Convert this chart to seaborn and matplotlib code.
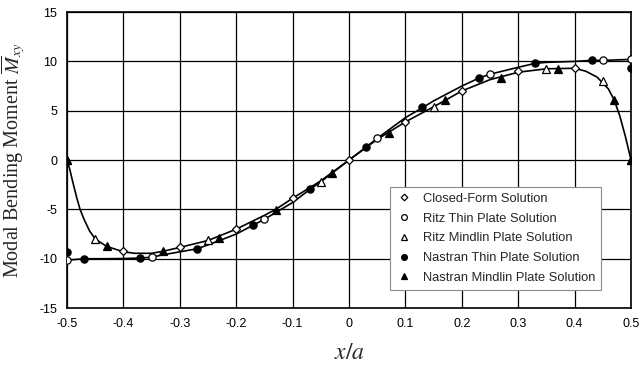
import matplotlib
matplotlib.use("Agg")
import matplotlib.pyplot as plt
import seaborn as sns
import pandas as pd

# ---- data ----
thin_curve_x = [-0.5, -0.47, -0.43, -0.4, -0.37, -0.35, -0.33, -0.3, -0.27, -0.25, -0.2, -0.17, -0.15,
                -0.1, -0.07, -0.05, 0.0, 0.03, 0.05, 0.1, 0.13, 0.15, 0.2, 0.23, 0.25, 0.3, 0.33, 0.35,
                0.4, 0.43, 0.45, 0.5]
thin_curve_y = [-10.15, -10.0, -10.0, -9.98, -9.93, -9.85, -9.6, -9.3, -9.0, -8.6, -7.5, -6.6, -6.0,
                -4.3, -3.0, -2.2, 0.0, 1.3, 2.2, 4.3, 5.3, 6.0, 7.5, 8.3, 8.7, 9.4, 9.8, 9.9,
                10.0, 10.1, 10.1, 10.2]

mindlin_curve_x = [-0.5, -0.495, -0.49, -0.483, -0.477, -0.47, -0.46, -0.45, -0.43, -0.4, -0.38, -0.35,
                   -0.33, -0.3, -0.25, -0.2, -0.15, -0.13, -0.1, -0.05, 0.0, 0.05, 0.1, 0.15, 0.2,
                   0.25, 0.3, 0.35, 0.4, 0.42, 0.44, 0.46, 0.47, 0.48, 0.49, 0.5]
mindlin_curve_y = [0.0, -1.0, -2.2, -3.8, -5.0, -6.0, -7.2, -8.0, -8.75, -9.3, -9.45, -9.45,
                   -9.25, -8.85, -8.15, -7.0, -5.6, -5.0, -3.87, -2.1, 0.0, 2.1, 3.87, 5.4, 7.0,
                   8.15, 8.9, 9.25, 9.3, 9.0, 8.4, 7.2, 6.1, 4.5, 2.4, 0.0]

closed_x = [-0.4, -0.3, -0.2, -0.1, 0.0, 0.1, 0.2, 0.3, 0.4]
closed_y = [-9.2, -8.86, -7.0, -3.87, 0.0, 3.87, 7.0, 9.0, 9.3]

ritz_thin_x = [-0.5, -0.35, -0.15, 0.05, 0.25, 0.45, 0.5]
ritz_thin_y = [-10.17, -9.87, -6.0, 2.2, 8.7, 10.1, 10.27]

ritz_mindlin_x = [-0.5, -0.45, -0.25, -0.05, 0.15, 0.35, 0.45, 0.5]
ritz_mindlin_y = [0.0, -8.0, -8.15, -2.2, 5.4, 9.26, 8.0, 0.0]

nastran_thin_x = [-0.5, -0.47, -0.37, -0.27, -0.17, -0.07, 0.03, 0.13, 0.23, 0.33, 0.43, 0.5]
nastran_thin_y = [-9.36, -10.0, -9.93, -9.0, -6.6, -2.96, 1.3, 5.35, 8.3, 9.8, 10.1, 9.3]

nastran_mindlin_x = [-0.5, -0.43, -0.33, -0.23, -0.13, -0.03, 0.07, 0.17, 0.27, 0.37, 0.47, 0.5]
nastran_mindlin_y = [0.0, -8.75, -9.2, -7.85, -5.05, -1.28, 2.7, 6.1, 8.3, 9.26, 6.1, 0.0]

x_ticks = [-0.5, -0.4, -0.3, -0.2, -0.1, 0, 0.1, 0.2, 0.3, 0.4, 0.5]
x_tick_labels = ["-0.5", "-0.4", "-0.3", "-0.2", "-0.1", "0", "0.1", "0.2", "0.3", "0.4", "0.5"]
y_ticks = [-15, -10, -5, 0, 5, 10, 15]
y_tick_labels = ["-15", "-10", "-5", "0", "5", "10", "15"]

# ---- styling ----
sns.set_theme(style="white")
plt.rcParams["font.family"] = ["Liberation Sans", "DejaVu Sans"]
plt.rcParams["mathtext.fontset"] = "stix"
plt.rcParams["axes.unicode_minus"] = False

fig = plt.figure(figsize=(6.39, 3.65), dpi=100)
ax = fig.add_axes([0.105, 0.156, 0.8825, 0.811])

sns.lineplot(x=thin_curve_x, y=thin_curve_y, sort=False, color="black", lw=1.2, ax=ax, zorder=3)
sns.lineplot(x=mindlin_curve_x, y=mindlin_curve_y, sort=False, color="black", lw=1.2, ax=ax, zorder=3)

series = [
    ("Closed-Form Solution", closed_x, closed_y, "D", "white", 4.2),
    ("Ritz Thin Plate Solution", ritz_thin_x, ritz_thin_y, "o", "white", 5.2),
    ("Ritz Mindlin Plate Solution", ritz_mindlin_x, ritz_mindlin_y, "^", "white", 5.5),
    ("Nastran Thin Plate Solution", nastran_thin_x, nastran_thin_y, "o", "black", 5.2),
    ("Nastran Mindlin Plate Solution", nastran_mindlin_x, nastran_mindlin_y, "^", "black", 5.5),
]
handles = []
for label, xs, ys, m, fc, ms in series:
    ax.plot(xs, ys, ls="none", marker=m, markersize=ms, markerfacecolor=fc,
            markeredgecolor="black", markeredgewidth=0.9, zorder=4)
    h, = ax.plot([], [], ls="none", marker=m, markersize=ms * 0.8, markerfacecolor=fc,
                 markeredgecolor="black", markeredgewidth=0.9, label=label)
    handles.append(h)

ax.set_xlim(-0.5, 0.5)
ax.set_ylim(-15, 15)
ax.set_xticks(x_ticks)
ax.set_xticklabels(x_tick_labels)
ax.set_yticks(y_ticks)
ax.set_yticklabels(y_tick_labels)
ax.grid(True, color="black", lw=0.9)
for s in ax.spines.values():
    s.set_color("black")
    s.set_linewidth(1.2)
ax.tick_params(axis="both", labelsize=9, colors="black", length=3, width=1, direction="in", pad=7)

ax.set_xlabel(r"$x/a$", fontsize=17, labelpad=9)
ax.set_ylabel(r"Modal Bending Moment $\overline{M}_{xy}$", fontsize=14.5,
              family="Liberation Serif", labelpad=9)

leg = ax.legend(handles=handles, loc="upper left", bbox_to_anchor=(0.573, 0.409),
                borderaxespad=0, fontsize=9.3, frameon=True, fancybox=False,
                labelspacing=0.6, handletextpad=0.9, handlelength=1.2,
                borderpad=0.45, framealpha=1)
leg.get_frame().set_edgecolor("0.55")
leg.get_frame().set_linewidth(0.8)
leg.set_zorder(5)

fig.savefig("out.png", dpi=100)
